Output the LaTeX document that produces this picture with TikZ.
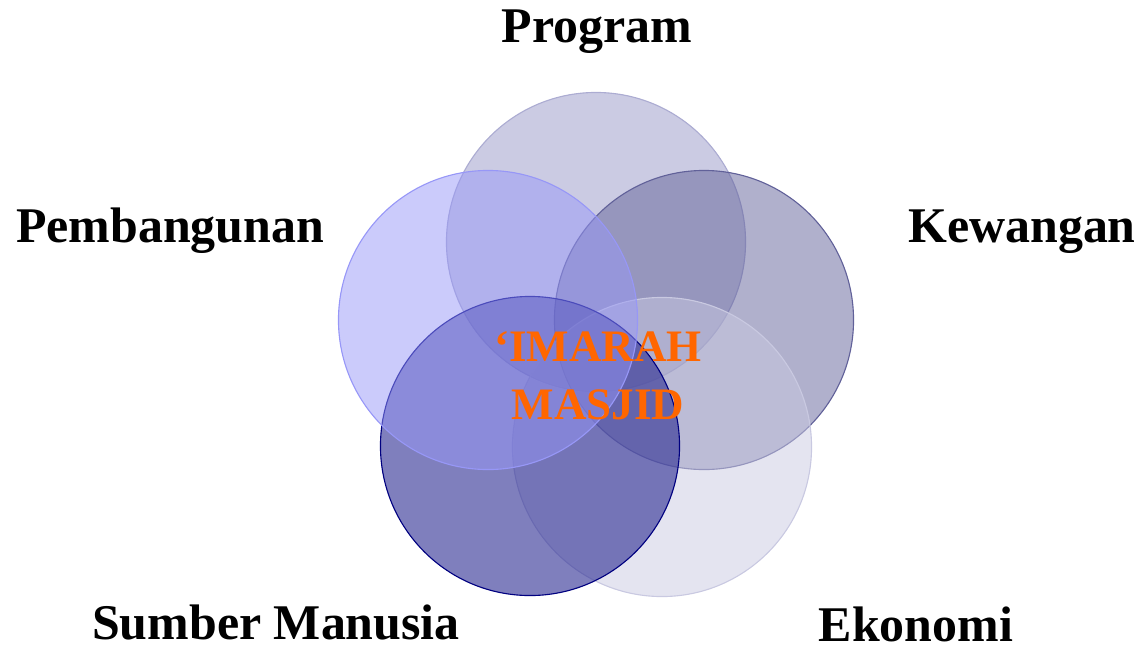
\documentclass[tikz,border=0pt]{standalone}
\usepackage{fontspec}
\setmainfont{Liberation Serif}
\usepackage{tikz}

\definecolor{progfill}{RGB}{151,151,199}
\definecolor{kewfill}{RGB}{97,97,153}
\definecolor{ekofill}{RGB}{201,201,225}
\definecolor{smfill}{RGB}{42,42,145}
\definecolor{pemfill}{RGB}{151,151,247}
\definecolor{imarah}{RGB}{255,102,0}

\begin{document}
\begin{tikzpicture}[x=0.025cm, y=-0.025cm,
    ring/.style={circle, minimum size=7.475cm, inner sep=0pt, line width=0.8pt},
    label/.style={font=\bfseries\fontsize{35.5}{40}\selectfont, anchor=base}]
\useasboundingbox (0,0) rectangle (1143,652);

% Five overlapping circles
\node[ring, fill=progfill, fill opacity=0.5, draw=progfill!80] (program) at (596,242) {};
\node[ring, fill=kewfill, fill opacity=0.5, draw=kewfill] (kewangan) at (704,320) {};
\node[ring, fill=ekofill, fill opacity=0.5, draw=ekofill] (ekonomi) at (662,447) {};
\node[ring, fill=smfill, fill opacity=0.6, draw=blue!50!black] (sumber) at (530,446) {};
\node[ring, fill=pemfill, fill opacity=0.5, draw=pemfill] (pembangunan) at (488,320) {};

% Centre text
\node[font=\bfseries\fontsize{32}{41.5}\selectfont, text=imarah, align=center] (centre) at (598,376) {`IMARAH\\MASJID};

% Labels
\node[label] (lprogram) at (597,42) {Program};
\node[label] (lpembangunan) at (170,242) {Pembangunan};
\node[label] (lkewangan) at (1022,242) {Kewangan};
\node[label] (lsumber) at (276,639) {Sumber Manusia};
\node[label] (lekonomi) at (916,641) {Ekonomi};
\end{tikzpicture}
\end{document}
